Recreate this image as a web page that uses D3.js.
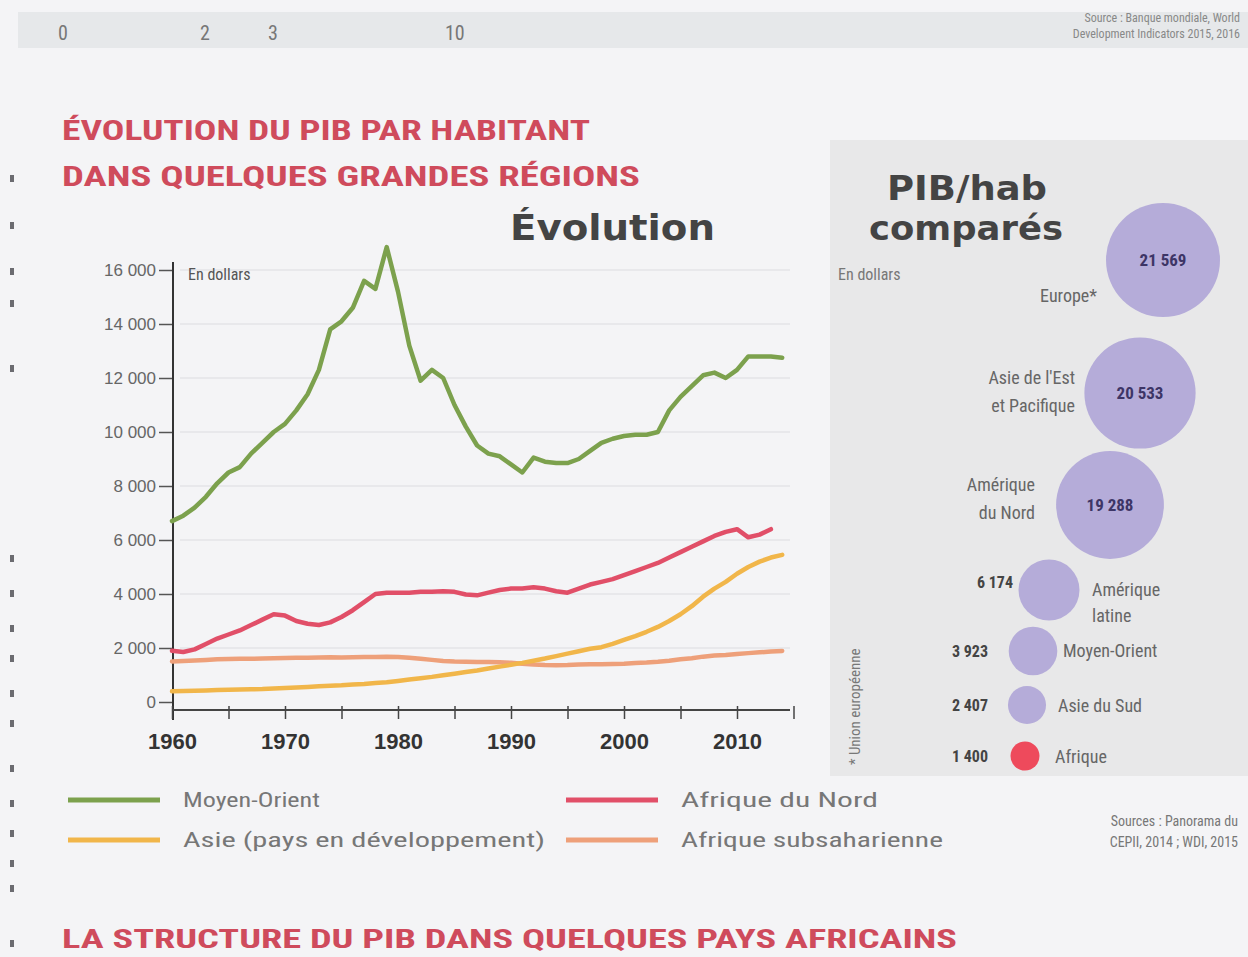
<!DOCTYPE html>
<html><head><meta charset="utf-8">
<script src="https://cdn.jsdelivr.net/npm/d3@7"></script>
<style>
html,body{margin:0;padding:0;background:#f4f4f6;}
svg{display:block;}
text{font-family:"Liberation Sans Narrow","Roboto Condensed","Liberation Sans",Arial,sans-serif;}
</style></head>
<body>
<svg id="c" width="1248" height="957"></svg>
<script>
// ---------- DATA ----------
const startYear = 1960;
const moyenOrient = [6700,6900,7200,7600,8100,8500,8700,9200,9600,10000,
  10300,10800,11400,12300,13800,14100,14600,15600,15300,16850,
  15200,13200,11900,12300,12000,11000,10200,9500,9200,9100,
  8800,8500,9050,8900,8850,8850,9000,9300,9600,9750,
  9850,9900,9900,10000,10800,11300,11700,12100,12200,12000,
  12300,12800,12800,12800,12750];
const afriqueNord = [1900,1850,1950,2150,2350,2500,2650,2850,3050,3250,
  3200,3000,2900,2850,2950,3150,3400,3700,4000,4050,
  4050,4050,4080,4080,4100,4080,3980,3950,4050,4150,
  4200,4200,4250,4200,4100,4050,4200,4350,4450,4550,
  4700,4850,5000,5150,5350,5550,5750,5950,6150,6300,
  6400,6100,6200,6400];
const asieDev = [400,410,420,430,440,450,460,470,480,500,
  520,540,560,580,600,620,650,670,700,730,
  780,830,880,930,990,1050,1110,1170,1240,1310,
  1380,1450,1530,1610,1700,1790,1880,1970,2030,2150,
  2300,2440,2600,2780,3000,3250,3550,3900,4200,4450,
  4750,5000,5200,5350,5450];
const afriqueSub = [1500,1520,1540,1560,1580,1590,1600,1600,1610,1620,
  1630,1640,1640,1650,1660,1650,1660,1670,1670,1680,
  1670,1640,1600,1560,1520,1500,1490,1480,1480,1470,
  1450,1420,1390,1370,1360,1370,1390,1400,1400,1410,
  1420,1440,1460,1490,1530,1580,1620,1680,1720,1740,
  1780,1810,1840,1870,1890];
const seriesNames = ["Moyen-Orient","Afrique du Nord","Asie (pays en développement)","Afrique subsaharienne"];
const yTicks = [0,2000,4000,6000,8000,10000,12000,14000,16000];
const xTickLabels = [1960,1970,1980,1990,2000,2010];
const bubbleRegions = ["Europe*","Asie de l'Est|et Pacifique","Amérique|du Nord","Amérique|latine","Moyen-Orient","Asie du Sud","Afrique"];
const bubbleValues = [21569,20533,19288,6174,3923,2407,1400];

// ---------- DRAW ----------
const svg = d3.select("#c");
const fr = d3.formatLocale({decimal:",",thousands:" ",grouping:[3],currency:["","$"]});
const fmt = fr.format(",d");

// top strip (previous chart remnant)
svg.append("rect").attr("x",18).attr("y",12).attr("width",1230).attr("height",36).attr("fill","#e6e8ea");
[["0",58],["2",200],["3",268],["10",445]].forEach(([t,x])=>{
  svg.append("text").attr("x",x).attr("y",40).attr("font-size",20).attr("fill","#777").text(t);
});
svg.append("text").attr("x",1240).attr("y",22).attr("text-anchor","end").attr("font-size",12).attr("fill","#888").text("Source : Banque mondiale, World");
svg.append("text").attr("x",1240).attr("y",38).attr("text-anchor","end").attr("font-size",12).attr("fill","#888").text("Development Indicators 2015, 2016");

// left-edge remnants
[175,222,268,300,365,555,590,625,655,690,720,765,800,830,860,885,940].forEach(y=>{
  svg.append("rect").attr("x",10).attr("y",y).attr("width",4).attr("height",7).attr("fill","#6b6b70");
});

// titles
const red = "#cf4b5c";
svg.append("text").attr("x",62).attr("y",140).attr("font-size",27).attr("font-weight","bold").attr("fill",red)
  .attr("textLength",528).attr("lengthAdjust","spacingAndGlyphs").text("ÉVOLUTION DU PIB PAR HABITANT");
svg.append("text").attr("x",62).attr("y",186).attr("font-size",27).attr("font-weight","bold").attr("fill",red)
  .attr("textLength",578).attr("lengthAdjust","spacingAndGlyphs").text("DANS QUELQUES GRANDES RÉGIONS");
svg.append("text").attr("x",510).attr("y",240).attr("font-size",36).attr("font-weight","bold")
  .style("font-family","'DejaVu Sans',sans-serif").attr("fill","#444")
  .attr("textLength",205).attr("lengthAdjust","spacingAndGlyphs").text("Évolution");

// scales
const x = d3.scaleLinear().domain([1960,2015]).range([172,793.5]);
const y = d3.scaleLinear().domain([0,16000]).range([702,270]);

// gridlines
svg.append("g").selectAll("line").data(yTicks.filter(d=>d>0)).join("line")
  .attr("x1",180).attr("x2",790).attr("y1",d=>y(d)).attr("y2",d=>y(d))
  .attr("stroke","#dcdce0").attr("stroke-width",1.2);

// y axis
const yAxis = d3.axisLeft(y).tickValues(yTicks).tickFormat(d=>fmt(d)).tickSize(14).tickPadding(3);
const gy = svg.append("g").attr("transform","translate(173,0)").call(yAxis);
gy.select(".domain").remove();
gy.selectAll(".tick line").attr("stroke","#555").attr("stroke-width",1.5);
gy.selectAll(".tick text").attr("font-size",17).attr("fill","#666")
  .style("font-family","'Liberation Sans Narrow','Liberation Sans',sans-serif");
svg.append("line").attr("x1",173).attr("x2",173).attr("y1",262).attr("y2",720).attr("stroke","#333").attr("stroke-width",2);
svg.append("text").attr("x",188).attr("y",280).attr("font-size",16).attr("fill","#555").text("En dollars");

// x axis
const xAxis = d3.axisBottom(x).tickValues(d3.range(1960,2016,5)).tickFormat(d=>xTickLabels.includes(d)?d:"").tickSize(9).tickPadding(14);
const gx = svg.append("g").attr("transform","translate(0,710)").call(xAxis);
gx.select(".domain").attr("stroke","#444").attr("stroke-width",2).attr("d","M172,0H790");
gx.selectAll(".tick line").attr("stroke","#444").attr("stroke-width",1.5).attr("y1",-4);
gx.selectAll(".tick text").attr("font-size",22).attr("font-weight","bold").attr("fill","#333")
  .style("font-family","'Liberation Sans Narrow','Liberation Sans',sans-serif");

// lines
const colors = {mo:"#7ca14d", an:"#e14f68", as:"#f1b64a", sub:"#eea07a"};
const line = d3.line().x((d,i)=>x(startYear+i)).y(d=>y(d)).curve(d3.curveLinear);
[[afriqueSub,colors.sub],[asieDev,colors.as],[afriqueNord,colors.an],[moyenOrient,colors.mo]].forEach(([arr,c])=>{
  svg.append("path").datum(arr).attr("d",line).attr("fill","none").attr("stroke",c)
    .attr("stroke-width",4.5).attr("stroke-linejoin","round").attr("stroke-linecap","round");
});

// legend
const legend = [
  [seriesNames[0],colors.mo,68,800],[seriesNames[1],colors.an,566,800],
  [seriesNames[2],colors.as,68,840],[seriesNames[3],colors.sub,566,840]];
const legendLen = [137,197,362,262];
legend.forEach(([t,c,lx,ly],i)=>{
  svg.append("line").attr("x1",lx).attr("x2",lx+92).attr("y1",ly).attr("y2",ly).attr("stroke",c).attr("stroke-width",5);
  svg.append("text").attr("x",lx+115).attr("y",ly+7).attr("font-size",20).attr("fill","#777")
    .attr("textLength",legendLen[i]).attr("lengthAdjust","spacingAndGlyphs").text(t);
});
svg.append("text").attr("x",1238).attr("y",826).attr("text-anchor","end").attr("font-size",14).attr("fill","#777").text("Sources : Panorama du");
svg.append("text").attr("x",1238).attr("y",847).attr("text-anchor","end").attr("font-size",14).attr("fill","#777").text("CEPII, 2014 ; WDI, 2015");

// right panel
svg.append("rect").attr("x",830).attr("y",140).attr("width",418).attr("height",636).attr("fill","#e8e8e9");
svg.append("text").attr("x",967).attr("y",200).attr("text-anchor","middle").attr("font-size",34).attr("font-weight","bold")
  .style("font-family","'DejaVu Sans',sans-serif").attr("fill","#444").attr("textLength",160).attr("lengthAdjust","spacingAndGlyphs").text("PIB/hab");
svg.append("text").attr("x",966).attr("y",240).attr("text-anchor","middle").attr("font-size",34).attr("font-weight","bold")
  .style("font-family","'DejaVu Sans',sans-serif").attr("fill","#444").attr("textLength",194).attr("lengthAdjust","spacingAndGlyphs").text("comparés");
svg.append("text").attr("x",838).attr("y",280).attr("font-size",16).attr("fill","#777").text("En dollars");

const r = d3.scaleSqrt().domain([0,21569]).range([0,57]);
const centers = [[1163,260],[1140,393],[1110,505],[1049,590],[1033,651],[1027,705],[1025,756]];
bubbleValues.forEach((v,i)=>{
  const [cx,cy] = centers[i];
  svg.append("circle").attr("cx",cx).attr("cy",cy).attr("r",r(v))
    .attr("fill", i===6 ? "#ee4a5c" : "#b5acd9");
});
// value labels inside big bubbles
[0,1,2].forEach(i=>{
  svg.append("text").attr("x",centers[i][0]).attr("y",centers[i][1]+6).attr("text-anchor","middle")
    .attr("font-size",17).attr("font-weight","bold").attr("fill","#3d3566").text(fmt(bubbleValues[i]));
});
// value labels left of small bubbles
const valX = [null,null,null,1013,988,988,988];
[3,4,5,6].forEach(i=>{
  svg.append("text").attr("x",valX[i]).attr("y",centers[i][1]+(i===3?-2:6)).attr("text-anchor","end")
    .attr("font-size",16).attr("font-weight","bold").attr("fill","#444").text(fmt(bubbleValues[i]));
});
// region names
const nameSpec = [
  {x:1097,y:302,a:"end"},{x:1075,y:384,a:"end",dy:28},{x:1035,y:491,a:"end",dy:28},
  {x:1092,y:596,a:"start",dy:26},{x:1063,y:657,a:"start"},{x:1058,y:712,a:"start"},{x:1055,y:763,a:"start"}];
bubbleRegions.forEach((n,i)=>{
  const s = nameSpec[i];
  n.split("|").forEach((part,j)=>{
    svg.append("text").attr("x",s.x).attr("y",s.y+j*(s.dy||0)).attr("text-anchor",s.a)
      .attr("font-size",18).attr("fill","#666").text(part);
  });
});
svg.append("text").attr("transform","translate(860,765) rotate(-90)").attr("font-size",15).attr("fill","#777").text("* Union européenne");

// bottom title
svg.append("text").attr("x",62).attr("y",948).attr("font-size",25).attr("font-weight","bold").attr("fill",red)
  .attr("textLength",895).attr("lengthAdjust","spacingAndGlyphs").text("LA STRUCTURE DU PIB DANS QUELQUES PAYS AFRICAINS");
</script>
</body></html>
